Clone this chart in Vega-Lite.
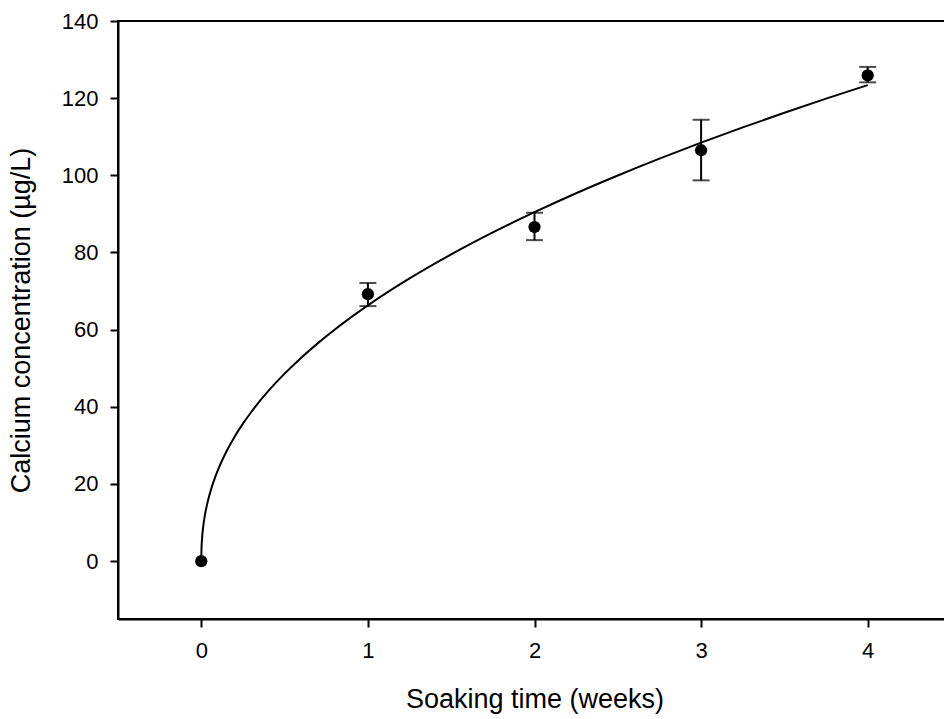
{
  "$schema": "https://vega.github.io/schema/vega-lite/v6.json",
  "autosize": {"type": "none"},
  "padding": {"left": 118, "top": 21, "right": 0, "bottom": 100},
  "width": 833,
  "height": 598,
  "background": "white",
  "config": {
    "view": {"stroke": "black", "strokeWidth": 2},
    "axis": {
      "grid": false,
      "domainColor": "black",
      "domainWidth": 2,
      "tickColor": "black",
      "tickWidth": 2,
      "tickSize": 8,
      "labelFont": "Liberation Sans",
      "labelFontSize": 22,
      "labelColor": "black",
      "titleFont": "Liberation Sans",
      "titleFontSize": 27,
      "titleFontWeight": "normal",
      "titleColor": "black"
    }
  },
  "datasets": {
    "obs": [
      {"week": 0, "conc": 0, "low": 0, "high": 0},
      {"week": 1, "conc": 69.2, "low": 66.1, "high": 72.1},
      {"week": 2, "conc": 86.6, "low": 83.2, "high": 90.3},
      {"week": 3, "conc": 106.5, "low": 98.7, "high": 114.4},
      {"week": 4, "conc": 125.9, "low": 124.1, "high": 128.1}
    ],
    "fit": [
      {"week": 0, "conc": 0},
      {"week": 0.001, "conc": 3.0},
      {"week": 0.002, "conc": 4.1},
      {"week": 0.005, "conc": 6.2},
      {"week": 0.01, "conc": 8.43},
      {"week": 0.02, "conc": 11.5},
      {"week": 0.04, "conc": 15.67},
      {"week": 0.06, "conc": 18.8},
      {"week": 0.08, "conc": 21.39},
      {"week": 0.1, "conc": 23.64},
      {"week": 0.15, "conc": 28.34},
      {"week": 0.2, "conc": 32.24},
      {"week": 0.25, "conc": 35.63},
      {"week": 0.3, "conc": 38.66},
      {"week": 0.4, "conc": 43.98},
      {"week": 0.5, "conc": 48.6},
      {"week": 0.6, "conc": 52.74},
      {"week": 0.7, "conc": 56.51},
      {"week": 0.8, "conc": 59.99},
      {"week": 0.9, "conc": 63.24},
      {"week": 1.0, "conc": 66.3},
      {"week": 1.25, "conc": 73.27},
      {"week": 1.5, "conc": 79.5},
      {"week": 1.75, "conc": 85.19},
      {"week": 2.0, "conc": 90.44},
      {"week": 2.25, "conc": 95.35},
      {"week": 2.5, "conc": 99.95},
      {"week": 2.75, "conc": 104.31},
      {"week": 3.0, "conc": 108.46},
      {"week": 3.25, "conc": 112.42},
      {"week": 3.5, "conc": 116.21},
      {"week": 3.75, "conc": 119.87},
      {"week": 4.0, "conc": 123.38}
    ]
  },
  "layer": [
    {
      "data": {"name": "fit"},
      "mark": {"type": "line", "color": "black", "strokeWidth": 2, "interpolate": "monotone"},
      "encoding": {
        "x": {"field": "week", "type": "quantitative", "scale": {"domain": [-0.5, 4.5], "nice": false, "zero": false},
          "axis": {"values": [0, 1, 2, 3, 4], "format": "d", "title": "Soaking time (weeks)", "labelPadding": 13, "titlePadding": 25}},
        "y": {"field": "conc", "type": "quantitative", "scale": {"domain": [-15, 140], "nice": false, "zero": false},
          "axis": {"values": [0, 20, 40, 60, 80, 100, 120, 140], "format": "d", "title": "Calcium concentration (µg/L)", "labelPadding": 12, "titlePadding": 26}}
      }
    },
    {
      "data": {"name": "obs"},
      "transform": [{"filter": "datum.high > datum.low"}],
      "mark": {"type": "rule", "color": "black", "strokeWidth": 2},
      "encoding": {
        "x": {"field": "week", "type": "quantitative"},
        "y": {"field": "low", "type": "quantitative"},
        "y2": {"field": "high"}
      }
    },
    {
      "data": {"name": "obs"},
      "transform": [{"filter": "datum.high > datum.low"}],
      "mark": {"type": "tick", "color": "black", "orient": "horizontal", "size": 17, "thickness": 2},
      "encoding": {
        "x": {"field": "week", "type": "quantitative"},
        "y": {"field": "low", "type": "quantitative"}
      }
    },
    {
      "data": {"name": "obs"},
      "transform": [{"filter": "datum.high > datum.low"}],
      "mark": {"type": "tick", "color": "black", "orient": "horizontal", "size": 17, "thickness": 2},
      "encoding": {
        "x": {"field": "week", "type": "quantitative"},
        "y": {"field": "high", "type": "quantitative"}
      }
    },
    {
      "data": {"name": "obs"},
      "mark": {"type": "point", "filled": true, "color": "black", "opacity": 1, "size": 150, "shape": "circle"},
      "encoding": {
        "x": {"field": "week", "type": "quantitative"},
        "y": {"field": "conc", "type": "quantitative"}
      }
    }
  ]
}
